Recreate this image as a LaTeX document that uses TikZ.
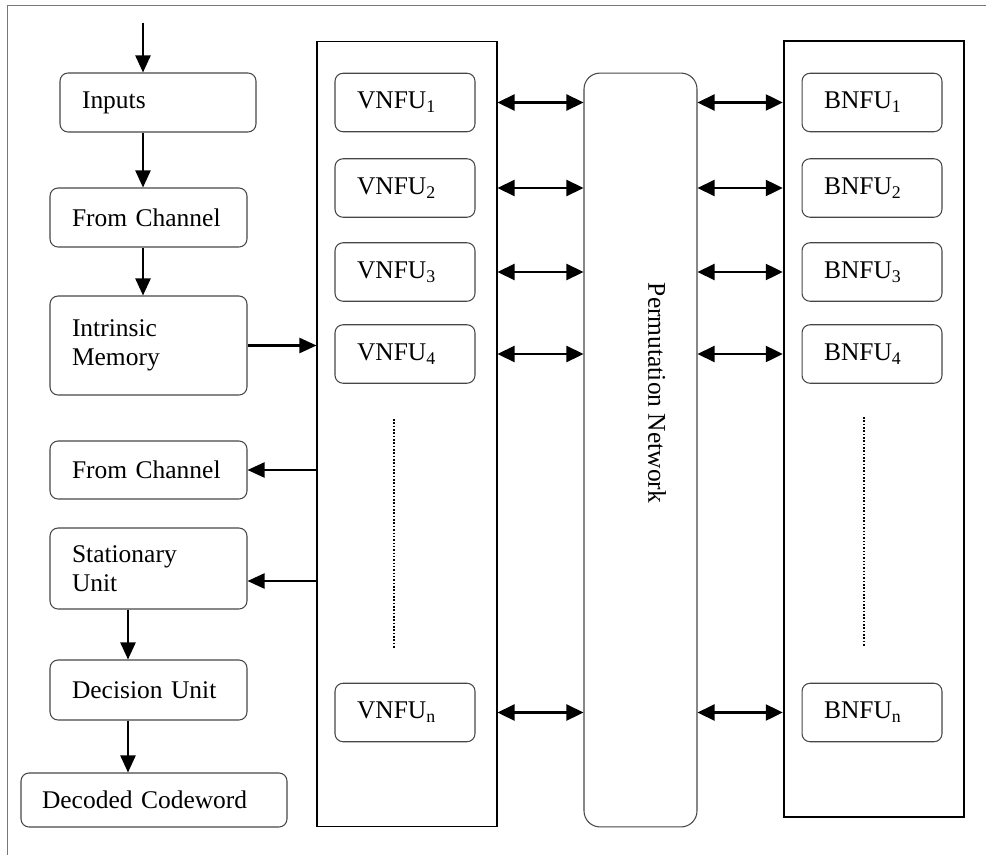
\documentclass[tikz,border=0pt]{standalone}
\usepackage{fontspec}
\setmainfont{Liberation Serif}
\usepackage{xcolor}
\definecolor{boxgray}{RGB}{70,70,70}
\definecolor{framegray}{RGB}{120,120,120}
\usetikzlibrary{arrows.meta,positioning,calc}

\begin{document}
\begin{tikzpicture}[x=0.02cm, y=-0.02cm,
  unitbox/.style={draw=boxgray, line width=0.6pt, rounded corners=0.16cm,
                  align=left, inner xsep=0.44cm, inner ysep=0pt,
                  font=\fontsize{14.5}{16.8}\selectfont},
  fubox/.style={unitbox, text width=1.92cm, minimum height=1.17cm},
  colbox/.style={draw, line width=0.6pt, minimum width=3.6cm},
  arr/.style={-{Triangle[length=0.34cm,width=0.3cm]}, line width=1.3pt},
  biarr/.style={{Triangle[length=0.34cm,width=0.32cm]}-{Triangle[length=0.34cm,width=0.32cm]},
                line width=1.3pt},
  dotline/.style={densely dotted, line width=0.9pt}
]
  \useasboundingbox (0,0) rectangle (986,855);
  \draw[framegray, line width=0.5pt] (986,5) -- (7,5) -- (7,855);

  % left chain
  \node[unitbox, text width=3.04cm, minimum height=1.18cm] (inputs) at (158,102.5) {Inputs};
  \node[unitbox, text width=3.06cm, minimum height=1.18cm] (chan1) at (148.5,217.5) {From Channel};
  \node[unitbox, text width=3.06cm, minimum height=1.98cm] (intr) at (148.5,345.5) {Intrinsic\\Memory};
  \node[unitbox, text width=3.06cm, minimum height=1.16cm] (chan2) at (148.5,470) {From Channel};
  \node[unitbox, text width=3.06cm, minimum height=1.62cm] (stat) at (148.5,568.5) {Stationary\\Unit};
  \node[unitbox, text width=3.06cm, minimum height=1.2cm] (dec) at (148.5,690) {Decision Unit};
  \node[unitbox, text width=4.48cm, inner xsep=0.42cm, minimum height=1.08cm] (decoded) at (154,800) {Decoded Codeword};

  % columns
  \node[colbox, minimum height=15.72cm] (vcol) at (407,434) {};
  \node[draw=boxgray, line width=0.6pt, rounded corners=0.32cm, minimum width=2.26cm,
        minimum height=15.08cm] (perm) at (640.5,450) {};
  \node[rotate=-90, font=\fontsize{14.5}{16.8}\selectfont] (permtxt) at (657,393) {Permutation Network};
  \node[colbox, line width=1.4pt, minimum height=15.52cm] (bcol) at (874,429) {};

  \foreach \i/\y in {1/102.5, 2/188, 3/272, 4/354, n/712.5}{
    \node[fubox] (v\i) at (405,\y) {VNFU\textsubscript{\i}};
    \node[fubox] (b\i) at (872,\y) {BNFU\textsubscript{\i}};
    \draw[biarr] (vcol.east |- v\i) -- (perm.west |- v\i);
    \draw[biarr] (perm.east |- b\i) -- (bcol.west |- b\i);
  }
  \draw[dotline] (394,419) -- (394,649);
  \draw[dotline] (864,417) -- (864,647);

  % arrows
  \coordinate (in) at (143,23);
  \coordinate (lane) at (128,0);
  \coordinate (statin) at ([yshift=-0.25cm]stat.east);
  \draw[arr] (in) -- (in |- inputs.north);
  \draw[arr] (in |- inputs.south) -- (in |- chan1.north);
  \draw[arr] (in |- chan1.south) -- (in |- intr.north);
  \draw[arr] (intr.east) -- (intr.east -| vcol.west);
  \draw[arr] (vcol.west |- chan2.east) -- (chan2.east);
  \draw[arr] (vcol.west |- statin) -- (statin);
  \draw[arr] (lane |- stat.south) -- (lane |- dec.north);
  \draw[arr] (lane |- dec.south) -- (lane |- decoded.north);
\end{tikzpicture}
\end{document}
